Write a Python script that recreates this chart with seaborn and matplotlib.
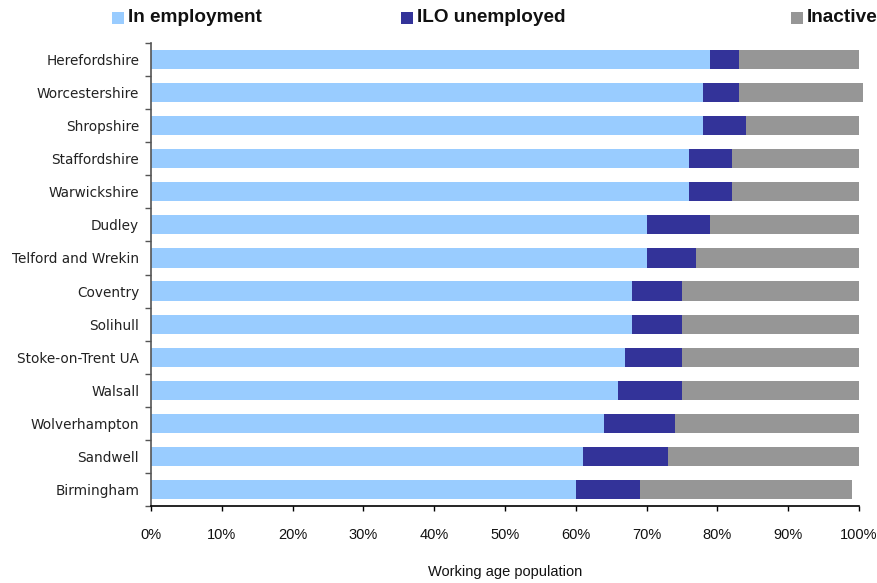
import matplotlib
matplotlib.use("Agg")
import matplotlib.pyplot as plt
from matplotlib.patches import Rectangle
from matplotlib.ticker import FixedLocator, MultipleLocator, FuncFormatter
import numpy as np
import pandas as pd
import seaborn as sns

# Share of working age population by labour-market status (%)
areas = ["Herefordshire", "Worcestershire", "Shropshire", "Staffordshire",
         "Warwickshire", "Dudley", "Telford and Wrekin", "Coventry", "Solihull",
         "Stoke-on-Trent UA", "Walsall", "Wolverhampton", "Sandwell", "Birmingham"]
in_employment = [79, 78, 78, 76, 76, 70, 70, 68, 68, 67, 66, 64, 61, 60]
ilo_unemployed = [4, 5, 6, 6, 6, 9, 7, 7, 7, 8, 9, 10, 12, 9]
inactive = [17, 17.5, 16, 18, 18, 21, 23, 25, 25, 25, 25, 26, 27, 30]

series_names = ["In employment", "ILO unemployed", "Inactive"]
colors = ["#99CCFF", "#333399", "#969696"]

df = pd.DataFrame({"area": areas, "emp": in_employment,
                   "unemp": ilo_unemployed, "inact": inactive})
df["cum_emp"] = df["emp"]
df["cum_unemp"] = df["emp"] + df["unemp"]
df["cum_inact"] = df["cum_unemp"] + df["inact"]

sns.set_theme(style="white")
plt.rcParams["font.family"] = ["DejaVu Sans"]

fig = plt.figure(figsize=(8.78, 5.83), dpi=100)
ax = fig.add_axes([151 / 878, 1 - 506 / 583, 708 / 878, 463 / 583])

# stacked bars: draw cumulative totals back to front
for col, c in zip(["cum_inact", "cum_unemp", "cum_emp"], colors[::-1]):
    sns.barplot(data=df, x=col, y="area", orient="h", color=c, width=0.58,
                saturation=1, linewidth=0, ax=ax)
for p in ax.patches:
    p.set_clip_on(False)

ax.set_xlim(0, 100)
ax.set_ylim(len(areas) - 0.5, -0.5)
ax.xaxis.set_major_locator(MultipleLocator(10))
ax.xaxis.set_major_formatter(FuncFormatter(lambda v, _: f"{v:.0f}%"))
ax.set_xlabel("Working age population", fontsize=10.5, labelpad=17,
              family=["Liberation Sans"], color="#111111")
ax.set_ylabel("")

for lab in ax.get_xticklabels():
    lab.set_family(["Liberation Sans"])
    lab.set_fontsize(10.5)
    lab.set_color("#111111")
ax.tick_params(axis="x", direction="out", length=3.5, width=1, color="black",
               pad=12, bottom=True)
ax.tick_params(axis="y", which="major", length=0, pad=8.5, labelsize=9.8,
               labelcolor="#222222")
ax.yaxis.set_minor_locator(FixedLocator(np.arange(-0.5, len(areas), 1.0)))
ax.tick_params(axis="y", which="minor", direction="out", length=4, width=1,
               color="#555555", left=True)

for s in ["top", "right"]:
    ax.spines[s].set_visible(False)
ax.spines["left"].set_color("#555555")
ax.spines["left"].set_linewidth(1.2)
ax.spines["bottom"].set_color("black")
ax.spines["bottom"].set_linewidth(1.2)

# legend row across the top
legend_x = [112, 401, 791]
for x0, name, c in zip(legend_x, series_names, colors):
    fig.patches.append(Rectangle((x0 / 878, 1 - 24 / 583), 12 / 878, 12 / 583,
                                 transform=fig.transFigure, facecolor=c,
                                 edgecolor="none"))
    fig.text((x0 + 16) / 878, 1 - 18 / 583, name, fontsize=13.7, weight="bold",
             family=["Liberation Sans"], va="center", ha="left", color="#111111")

fig.savefig("out.png", dpi=100)
